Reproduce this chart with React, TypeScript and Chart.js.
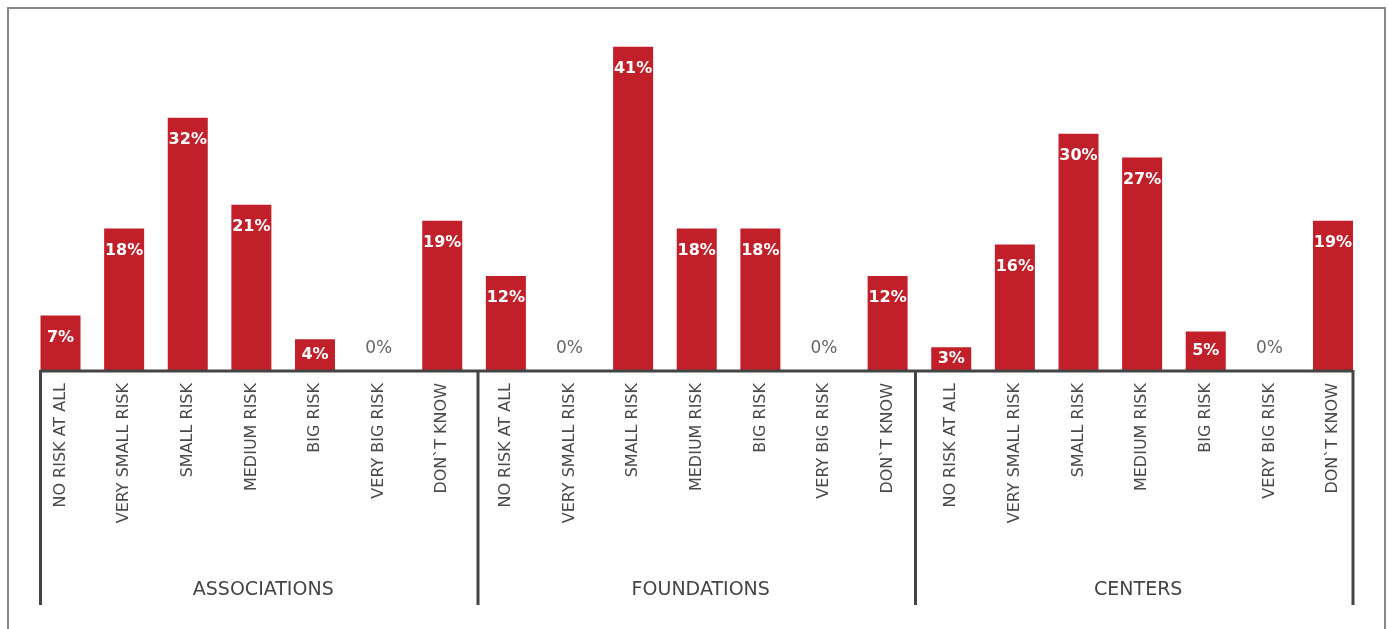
import React, { useEffect, useRef } from "react";
import { Chart, registerables } from "chart.js";

Chart.register(...registerables);

const categories = [
  "NO RISK AT ALL",
  "VERY SMALL RISK",
  "SMALL RISK",
  "MEDIUM RISK",
  "BIG RISK",
  "VERY BIG RISK",
  "DON`T KNOW",
];
const groups = ["ASSOCIATIONS", "FOUNDATIONS", "CENTERS"];
const associations = [7, 18, 32, 21, 4, 0, 19];
const foundations = [12, 0, 41, 18, 18, 0, 12];
const centers = [3, 16, 30, 27, 5, 0, 19];

const labels = [...categories, ...categories, ...categories];
const values = [...associations, ...foundations, ...centers];

const FONT = "'DejaVu Sans', sans-serif";

const overlayPlugin = {
  id: "overlay",
  afterDatasetsDraw(chart: any) {
    const { ctx, chartArea } = chart;
    const meta = chart.getDatasetMeta(0);
    ctx.save();
    ctx.textAlign = "center";
    ctx.textBaseline = "middle";
    meta.data.forEach((bar: any, i: number) => {
      const v = values[i];
      if (v === 0) {
        ctx.fillStyle = "#666666";
        ctx.font = `17px ${FONT}`;
        ctx.fillText(`${v}%`, bar.x, bar.y - 22);
      } else {
        ctx.fillStyle = "#ffffff";
        ctx.font = `bold 16px ${FONT}`;
        const y = Math.min(bar.y + 22, (bar.y + bar.base) / 2);
        ctx.fillText(`${v}%`, bar.x, y);
      }
    });
    // group separators and labels
    const first = meta.data[0];
    const last = meta.data[meta.data.length - 1];
    const x0 = first.x - first.width / 2;
    const x1 = last.x + last.width / 2;
    const gw = (x1 - x0) / groups.length;
    ctx.strokeStyle = "#444444";
    ctx.lineWidth = 3;
    for (let g = 0; g <= groups.length; g++) {
      const x = x0 + g * gw;
      ctx.beginPath();
      ctx.moveTo(x, chartArea.bottom - 1);
      ctx.lineTo(x, 605);
      ctx.stroke();
    }
    ctx.beginPath();
    ctx.moveTo(x0, chartArea.bottom);
    ctx.lineTo(x1, chartArea.bottom);
    ctx.stroke();
    ctx.fillStyle = "#444444";
    ctx.font = `19px ${FONT}`;
    groups.forEach((gname, g) => {
      const cx = x0 + (g + 0.5) * gw + 4;
      ctx.fillText(gname, cx, 590);
    });
    ctx.restore();
  },
};

export default function App() {
  const ref = useRef<HTMLCanvasElement>(null);
  useEffect(() => {
    const chart = new Chart(ref.current!, {
      type: "bar",
      data: {
        labels,
        datasets: [
          {
            data: values,
            backgroundColor: "#C1202A",
            categoryPercentage: 1,
            barPercentage: 0.629,
          },
        ],
      },
      options: {
        animation: false,
        responsive: false,
        maintainAspectRatio: false,
        layout: { padding: { left: 28.7, right: 24.2, top: 15, bottom: 0 } },
        plugins: { legend: { display: false }, tooltip: { enabled: false } },
        scales: {
          y: { display: false, min: 0, max: 45 },
          x: {
            grid: { display: false, drawTicks: false },
            border: { display: false },
            ticks: {
              minRotation: 90,
              maxRotation: 90,
              autoSkip: false,
              padding: 12,
              color: "#4a4a4a",
              font: { family: FONT, size: 16 },
            },
            afterFit(scale: any) {
              scale.height = 258;
            },
          },
        },
      },
      plugins: [overlayPlugin],
    });
    return () => chart.destroy();
  }, []);
  return (
    <div style={{ position: "absolute", left: 0, top: 0, width: 1389, height: 629, overflow: "hidden", background: "#fff" }}>
      <div
        style={{
          position: "absolute",
          left: 7,
          top: 7,
          width: 1375,
          height: 640,
          border: "2px solid #888888",
        }}
      />
      <canvas ref={ref} width={1389} height={629} style={{ position: "absolute", left: 0, top: 0 }} />
    </div>
  );
}
